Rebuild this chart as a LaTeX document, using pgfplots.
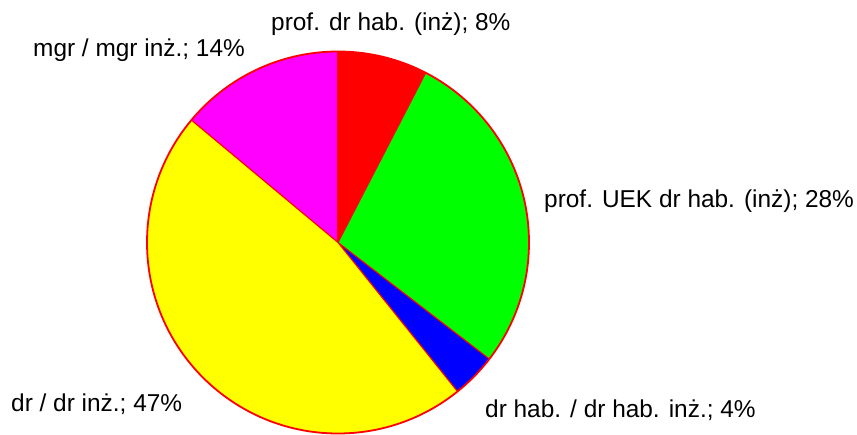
\documentclass[border=0pt]{standalone}
\usepackage{pgfplots}
\pgfplotsset{compat=1.18}
\usepackage{fontspec}
\setmainfont{Liberation Sans}
\definecolor{cRed}{RGB}{255,0,0}
\definecolor{cGreen}{RGB}{0,255,0}
\definecolor{cBlue}{RGB}{0,0,255}
\definecolor{cYellow}{RGB}{255,255,0}
\definecolor{cMagenta}{RGB}{255,0,255}
\begin{document}
\begin{tikzpicture}
\begin{axis}[
  scale only axis, width=857bp, height=435bp,
  xmin=0, xmax=857, ymin=0, ymax=435,
  hide axis, clip=false,
]
% counts per group (shares of 79)
\def\total{79}
\def\cx{338}\def\cy{192.5}\def\r{191}
\def\s{90}
\foreach \v/\c in {6/cRed,22/cGreen,3/cBlue,37/cYellow,11/cMagenta} {
  \pgfmathsetmacro\e{\s-\v/\total*360}
  \edef\temp{\noexpand\fill[fill=\c]
    (axis cs:\cx,\cy) -- ++(\s:\r bp) arc[start angle=\s, end angle=\e, radius=\r bp] -- cycle;}
  \temp
  \global\let\s\e
}
\def\s{90}
\foreach \v/\c in {6/cRed,22/cGreen,3/cBlue,37/cYellow,11/cMagenta} {
  \pgfmathsetmacro\e{\s-\v/\total*360}
  \edef\temp{\noexpand\draw[draw=cRed, line width=1.1bp]
    (axis cs:\cx,\cy) -- ++(\s:\r bp);}
  \temp
  \global\let\s\e
}
\edef\temp{\noexpand\draw[draw=cRed, line width=1.8bp] (axis cs:\cx,\cy) circle[radius=\r bp];}
\temp
\tikzset{lab/.style={anchor=base west, inner sep=0pt, text=black, font=\fontsize{24.5}{29}\selectfont}}
\node[lab] at (axis cs:271,404) {prof. dr hab. (inż); 8\%};
\node[lab] at (axis cs:33,378) {mgr / mgr inż.; 14\%};
\node[lab] at (axis cs:544,227) {prof. UEK dr hab. (inż); 28\%};
\node[lab] at (axis cs:485,18) {dr hab. / dr hab. inż.; 4\%};
\node[lab] at (axis cs:11,24) {dr / dr inż.; 47\%};
\end{axis}
\pgfresetboundingbox
\useasboundingbox (0,0) rectangle (857bp,435bp);
\end{tikzpicture}
\end{document}
